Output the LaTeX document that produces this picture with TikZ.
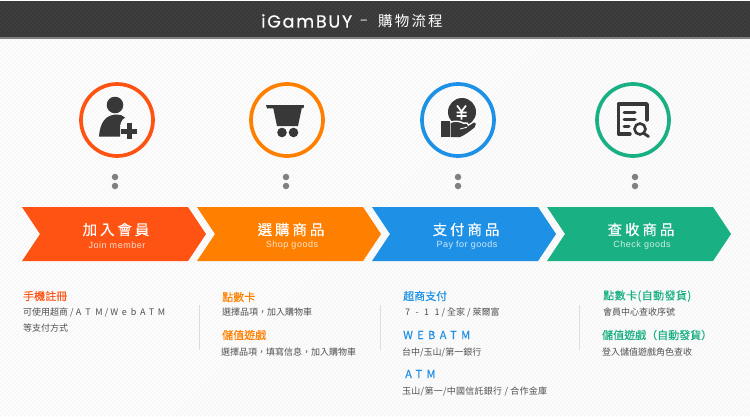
\documentclass[tikz,border=0pt]{standalone}
\usepackage{fontspec}
\usepackage{xcolor}
\usetikzlibrary{positioning}
\setmainfont{Noto Sans CJK TC}
\newfontfamily\latinfont{Liberation Sans}
\newfontfamily\logofont[LetterSpace=10,FakeBold=0.4]{Poppins}
\newfontfamily\headfont[FakeBold=0.25]{Noto Sans CJK TC}
\definecolor{barDark}{HTML}{383838}
\definecolor{barHatch}{HTML}{414141}
\definecolor{barEdge}{HTML}{808080}
\definecolor{pageHatch}{HTML}{F6F6F6}
\definecolor{stepRed}{HTML}{FF5314}
\definecolor{stepOrange}{HTML}{FF8000}
\definecolor{stepBlue}{HTML}{1E90E6}
\definecolor{stepGreen}{HTML}{19B083}
\definecolor{bodyGray}{HTML}{505050}
\definecolor{sepGray}{HTML}{DDDDDD}
\newcommand{\spaced}[2]{{\addfontfeature{LetterSpace=#1}#2}}
\tikzset{
	ringnode/.style={circle,draw=#1,line width=3.7pt,minimum size=72pt,inner sep=0pt},
	dotnode/.style={circle,fill=barEdge,minimum size=6.5pt,inner sep=0pt},
	headtxt/.style={anchor=west,inner sep=0pt,text=#1,font=\headfont\fontsize{11}{13}\selectfont},
	bodytxt/.style={anchor=west,inner sep=0pt,text=bodyGray,font=\fontsize{9}{11}\selectfont},
	cntxt/.style={inner sep=0pt,text=white,font=\headfont\fontsize{14.5}{16}\selectfont},
	entxt/.style={inner sep=0pt,text=white,opacity=.8,font=\latinfont\fontsize{9}{11}\selectfont},
	icon/.style={fill=barDark,draw=none}
}
\begin{document}
\begin{tikzpicture}[x=1pt,y=-1pt]

\def\STEPBAR(#1,#2)#3#4#5#6{%
	\begin{scope}[shift={(#1,0)}]
	\fill[#4] (0,207) -- (166,207) -- (#2,234) -- (166,261) -- (0,261) -- (18,234) -- cycle; % The arrow body
	\node[cntxt] (#3 cn) at (94,229.5) {\spaced{20}{#5}}; % Chinese label
	\node[entxt] (#3 en) at (95,245) {\addfontfeature{LetterSpace=6}#6}; % English label
	\end{scope}
}

%Page and title bar:
\useasboundingbox (0,0) rectangle (750,416);
\fill[white] (0,0) rectangle (750,416);
\begin{scope}
\clip (0,38) rectangle (750,416);
\foreach \x in {0,4,...,1168}{
	\draw[pageHatch,line width=1.4pt] (\x,0) -- (\x-416,416);
}
\end{scope}
\fill[barDark] (0,1) rectangle (750,37);
\begin{scope}
\clip (0,1) rectangle (750,37);
\foreach \x in {0,4,...,788}{
	\draw[barHatch,line width=1pt] (\x,0) -- (\x-38,38);
}
\end{scope}
\fill[barEdge] (0,37) rectangle (750,38.5);
\node[inner sep=0pt,text=white,anchor=west,font=\logofont\fontsize{17.5}{19}\selectfont] (logo) at (261,21) {iGamBUY};
\node[inner sep=0pt,text=white,anchor=west,font=\fontsize{14}{16}\selectfont] (dash) at (360,22) {–};
\node[inner sep=0pt,text=white,anchor=west,font=\fontsize{14.5}{16}\selectfont] (title) at (378,21) {\spaced{15}{購物流程}};

%Step arrows:
\STEPBAR(22,184){join}{stepRed}{加入會員}{Join member}
\STEPBAR(197,184){shop}{stepOrange}{選購商品}{Shop goods}
\STEPBAR(372,184){pay}{stepBlue}{支付商品}{Pay for goods}
\STEPBAR(547,184){check}{stepGreen}{查收商品}{Check goods}

%Rings and dots:
\node[ringnode=stepRed] (ring1) at (117,120) {};
\node[ringnode=stepOrange] (ring2) at (287,120) {};
\node[ringnode=stepBlue] (ring3) at (458,120) {};
\node[ringnode=stepGreen] (ring4) at (633,120) {};
\foreach \x/\n in {115/1,286/2,458/3,635/4}{
	\node[dotnode] (dota\n) at (\x,177) {};
	\node[dotnode] (dotb\n) at (\x,186) {};
}

%Icon: member
\fill[icon] (115,105) circle (8.3);
\fill[icon] (99,136.5) .. controls (100,122) and (106,114.5) .. (117,114.5) .. controls (120,114.5) and (123,115.5) .. (125,117.5) .. controls (121,120) and (120,124) .. (120,128) -- (120,136.5) -- cycle;
\fill[icon] (126.5,123) rectangle (131.5,139);
\fill[icon] (121,128.5) rectangle (137,133.5);

%Icon: cart
\fill[icon] (266,105) -- (304,105) -- (303.5,108) -- (267,108.5) -- cycle;
\fill[icon] (273,107) -- (302,107) -- (298,126) -- (277,126) -- cycle;
\fill[icon] (282,132.5) circle (4.8);
\fill[icon] (293.5,132.5) circle (4.8);

%Icon: coin in hand
\fill[icon] (462,112) circle (14);
\draw[white,line width=1.7pt] (457,105.5) -- (461.5,111.5) -- (466,105.5) (461.5,111.5) -- (461.5,119.5) (456.5,112.5) -- (466.5,112.5) (456.5,116) -- (466.5,116);
\draw[white,line width=1.5pt] (451,122) .. controls (456,120.5) and (460,121.5) .. (463,123) -- (467,123) -- (469,126) -- (476,121);
\fill[icon] (441,121) rectangle (449.5,137);
\fill[icon] (450.5,123) .. controls (456,121.5) and (460,122.5) .. (463,124) -- (466,124) .. controls (468,124) and (468.5,126.5) .. (467,127) -- (474,122.5) .. controls (476,122) and (476.5,126) .. (474.5,127.5) .. controls (470,131) and (465,135) .. (460,137) -- (450.5,137) -- cycle;
\draw[white,line width=.8pt] (460,129) -- (467,127.2);

%Icon: lookup sheet
\draw[barDark,line width=3.4pt,line cap=round,line join=round] (647,120) -- (647,104) -- (618.5,104) -- (618.5,134) -- (630,134);
\draw[barDark,line width=3pt,line cap=round] (624,112) -- (635,112) (624,119) -- (635,119) (624,126) -- (629,126);
\draw[barDark,line width=2.6pt,fill=white] (640,129) circle (5.5);
\draw[barDark,line width=2.8pt,line cap=round] (644,133.5) -- (648.5,136.5);

%Separators:
\foreach \x/\n in {199/1,380/2,579/3}{
	\coordinate (septop\n) at (\x,305);
	\coordinate (sepbot\n) at (\x,350);
	\draw[sepGray] (septop\n) -- (sepbot\n);
}

%Text under arrows:
\node[headtxt=stepRed] (joinA) at (23,296) {手機註冊};
\node[bodytxt] (joinB) at (23,312) {可使用超商 / \spaced{52}{ATM} / \spaced{42}{WebATM}};
\node[bodytxt] (joinC) at (23,328) {等支付方式};

\node[headtxt=stepOrange] (shopA) at (222,297) {點數卡};
\node[bodytxt] (shopB) at (222,312) {選擇品項，加入購物車};
\node[headtxt=stepOrange] (shopC) at (222,335) {儲值遊戲};
\node[bodytxt] (shopD) at (221,352) {選擇品項，填寫信息，加入購物車};

\node[headtxt=stepBlue] (payA) at (403,296) {超商支付};
\node[bodytxt] (payB) at (405,312) {\spaced{60}{7-11} / 全家 / 萊爾富};
\node[headtxt=stepBlue] (payC) at (403,335) {\spaced{40}{WEBATM}};
\node[bodytxt] (payD) at (402,352) {台中/玉山/第一銀行};
\node[headtxt=stepBlue] (payE) at (405,374) {\spaced{40}{ATM}};
\node[bodytxt] (payF) at (402,391) {\spaced{3}{玉山/第一/中國信託銀行 / 合作金庫}};

\node[headtxt=stepGreen] (checkA) at (603,296) {\spaced{4}{點數卡(自動發貨)}};
\node[bodytxt] (checkB) at (603,312) {會員中心查收序號};
\node[headtxt=stepGreen] (checkC) at (602,335) {儲值遊戲（自動發貨）};
\node[bodytxt] (checkD) at (602,352) {登入儲值遊戲角色查收};

\end{tikzpicture}
\end{document}
